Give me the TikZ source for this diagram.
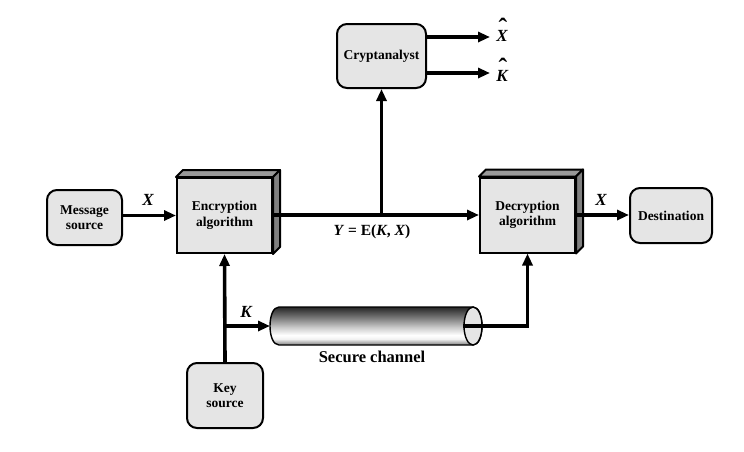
\documentclass[tikz,border=0pt]{standalone}
\usepackage{fontspec}
\setmainfont{Liberation Serif}
\usetikzlibrary{arrows.meta,shapes.geometric,calc}
\pgfdeclareverticalshading{tubeshade}{100bp}{color(0bp)=(black!50); color(25bp)=(black!50); color(33bp)=(black!5); color(38bp)=(white); color(48bp)=(black!20); color(62bp)=(black!55); color(75bp)=(black!85); color(100bp)=(black!85)}
\begin{document}
\begin{tikzpicture}[x=1pt,y=-1pt,
  txt/.style={align=center,font=\fontsize{13.5}{15.5}\selectfont\bfseries},
  rbox/.style={txt,draw,line width=2pt,rounded corners=10pt,fill=black!10,inner sep=0pt},
  face/.style={txt,draw,line width=2pt,fill=black!10,inner sep=0pt,minimum width=95pt,minimum height=75pt},
  topface/.style={draw,line width=2pt,fill=black!40,line join=round},
  sideface/.style={draw,line width=2pt,fill=black!50,line join=round},
  conn/.style={line width=3.6pt,-{Triangle[length=12pt,width=10pt]}},
  lab/.style={font=\fontsize{17}{17}\selectfont\bfseries\itshape},
  hat/.style={font=\fontsize{26}{26}\selectfont\bfseries,inner sep=0pt},
  math/.style={font=\fontsize{15.5}{15.5}\selectfont\bfseries}]
\useasboundingbox (0,0) rectangle (744,451);

% nodes
\node[rbox,minimum width=75pt,minimum height=55pt] (msg) at (84.5,217.5) {Message\\source};
\node[face] (enc) at (224.5,215.5) {Encryption\\algorithm};
\node[face] (dec) at (527.5,215) {Decryption\\algorithm};
\node[rbox,minimum width=82pt,minimum height=55pt] (dst) at (671,215.5) {Destination};
\node[rbox,minimum width=89pt,minimum height=64pt] (crypt) at (381.5,56) {Cryptanalyst};
\node[rbox,minimum width=76pt,minimum height=65pt] (key) at (225,395.5) {Key\\source};

% 3D faces
\foreach \n in {enc,dec}{
  \draw[topface] (\n.north west) -- ++(7,-7) -- ($(\n.north east)+(7,-7)$) -- (\n.north east) -- cycle;
  \draw[sideface] (\n.north east) -- ++(7,-7) -- ($(\n.south east)+(7,-7)$) -- (\n.south east) -- cycle;
}

% tube
\shade[shading=tubeshade,draw,line width=1.4pt]
  (279,307) -- (473,307) .. controls (485,307) and (485,345) .. (473,345)
  -- (279,345) .. controls (267,345) and (267,307) .. (279,307) -- cycle;
\node[ellipse,draw,line width=1.4pt,fill=black!10,minimum width=18pt,minimum height=38pt,inner sep=0pt] (cap) at (473,326) {};
\coordinate (tubeL) at (270,326);
\node[font=\fontsize{16.5}{16.5}\selectfont\bfseries] (sc) at (372,357) {Secure channel};

% coordinates
\coordinate (ybr) at (381.5,215);
\coordinate (kb) at (225,326);
\coordinate (xh) at (490,37);
\coordinate (kh) at (490,73);

% connectors
\draw[conn] (msg.east |- enc.west) -- (enc.west);
\draw[conn] (enc.east |- ybr) -- (dec.west |- ybr);
\draw[conn] (ybr) -- (crypt.south);
\draw[conn] (crypt.east |- xh) -- (xh);
\draw[conn] (crypt.east |- kh) -- (kh);
\draw[conn] (dec.east |- ybr) -- (dst.west |- ybr);
\draw[conn] (key.north) -- (enc.south);
\draw[conn] (kb) -- (tubeL);
\draw[conn] (cap.west) -| (dec.south);

% labels
\node[lab] at (148,200) {X};
\node[lab] at (601,200) {X};
\node[lab] at (246,312) {K};
\node[lab] (xl) at (502,36) {X};
\node[hat] at (503,27) {ˆ};
\node[lab] (kl) at (502,76) {K};
\node[hat] at (503,67) {ˆ};
\node[math] at (372,232) {\textit{Y} = E(\textit{K}, \textit{X})};
\end{tikzpicture}
\end{document}
